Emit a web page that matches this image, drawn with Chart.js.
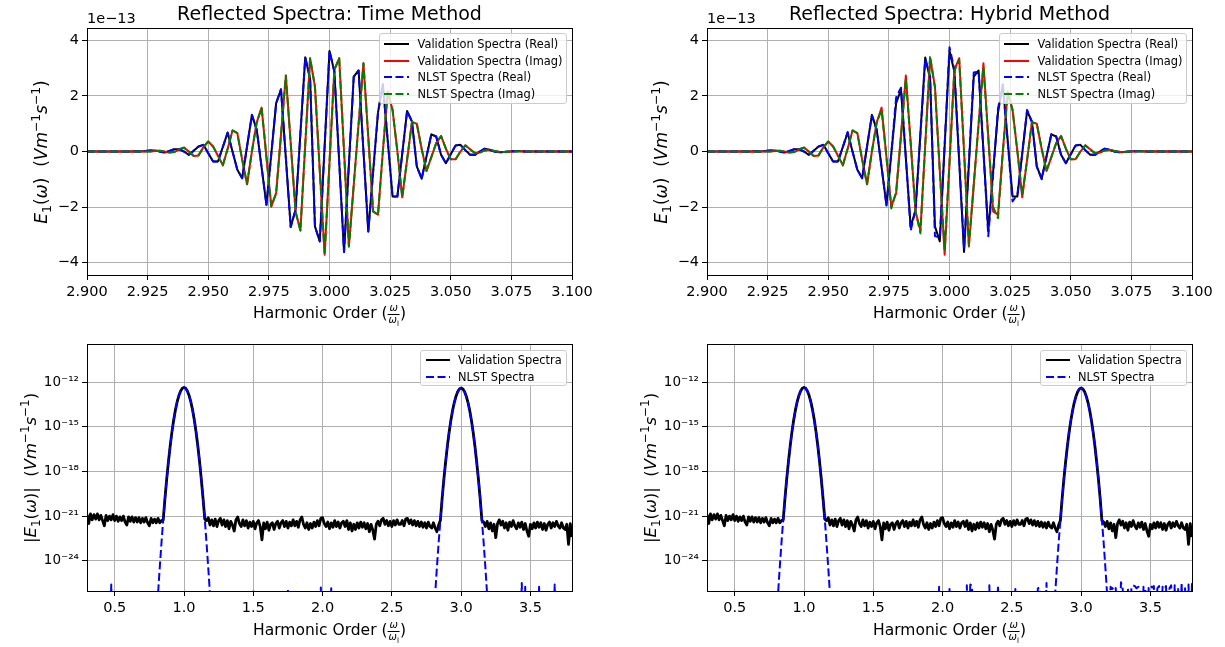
<!DOCTYPE html>
<html><head><meta charset="utf-8">
<script src="https://cdn.jsdelivr.net/npm/chart.js@4.4.1/dist/chart.umd.min.js"></script>
<style>
html,body{margin:0;padding:0;background:#fff;}
#wrap{position:relative;width:1225px;height:647px;overflow:hidden;font-family:"DejaVu Sans",sans-serif;color:#000;}
canvas{position:absolute;}
.t{position:absolute;white-space:nowrap;transform:translate(-50%,-50%);line-height:1;}
.rot{transform:translate(-50%,-50%) rotate(-90deg);}
.off{position:absolute;white-space:nowrap;transform:translate(0,-50%);line-height:1;font-size:14.5px;}
sub,sup{font-size:72%;line-height:0;}
.frac{display:inline-block;vertical-align:-0.45em;text-align:center;font-size:10px;line-height:1.05;}
.frac>span{display:block;padding:0 1px;}
.frac>span:first-child{border-bottom:1px solid #000;}
.leg{position:absolute;box-sizing:border-box;background:rgba(255,255,255,0.8);border:1px solid #cccccc;border-radius:3px;font-size:11.4px;}
.leg .row{position:absolute;display:flex;align-items:center;height:14px;white-space:nowrap;}
.leg svg{display:block;}
</style></head>
<body><div id="wrap">
<canvas id="c1" width="612" height="330" style="left:0;top:0"></canvas>
<canvas id="c2" width="612" height="330" style="left:620px;top:0"></canvas>
<canvas id="c3" width="612" height="317" style="left:0;top:330px"></canvas>
<canvas id="c4" width="612" height="317" style="left:620px;top:330px"></canvas>
</div>
<script>
// ---------- top panels: harmonic order grid and spectra (units of 1e-13) ----------
const harmonicTop = [
2.900,2.902,2.904,2.906,2.908,2.910,2.912,2.914,2.916,2.918,
2.920,2.922,2.924,2.926,2.928,2.930,2.932,2.934,2.936,2.938,
2.940,2.942,2.944,2.946,2.948,2.950,2.952,2.954,2.956,2.958,
2.960,2.962,2.964,2.966,2.968,2.970,2.972,2.974,2.976,2.978,
2.980,2.982,2.984,2.986,2.988,2.990,2.992,2.994,2.996,2.998,
3.000,3.002,3.004,3.006,3.008,3.010,3.012,3.014,3.016,3.018,
3.020,3.022,3.024,3.026,3.028,3.030,3.032,3.034,3.036,3.038,
3.040,3.042,3.044,3.046,3.048,3.050,3.052,3.054,3.056,3.058,
3.060,3.062,3.064,3.066,3.068,3.070,3.072,3.074,3.076,3.078,
3.080,3.082,3.084,3.086,3.088,3.090,3.092,3.094,3.096,3.098,
3.100];
const validationReal = [
0,0,0,0,0,0,0,0,0,0,
0.01,0.00,0.02,0.04,0.04,0.00,-0.04,0.02,0.08,0.08,
0.00,-0.12,0.03,0.18,0.24,-0.06,-0.36,-0.36,0.16,0.68,
0.00,-0.66,-0.96,0.18,1.32,0.78,-0.57,-1.92,-0.09,1.74,
2.24,-0.23,-2.72,-2.10,0.65,3.39,2.62,-2.70,-3.24,0.20,
3.62,2.88,-0.37,-3.62,-0.46,2.70,2.92,0.02,-2.88,-0.72,
1.40,2.42,0.40,-1.62,-1.62,-0.08,1.46,1.08,-0.54,-0.98,
-0.18,0.62,0.54,-0.12,-0.42,-0.10,0.22,0.24,0.05,-0.12,
-0.12,0.00,0.10,0.06,0.00,-0.03,-0.02,0.00,0.01,0.02,
0,0,0,0,0,0,0,0,0,0,
0];
const validationImag = [
0,0,0,0,0,0,0,0,0,0,
0,0,0,0,0.02,0.03,0.00,-0.04,-0.02,0.08,
0.14,0.00,-0.16,-0.14,0.15,0.36,0.18,-0.15,-0.50,0.10,
0.76,0.66,-0.30,-1.18,0.00,1.05,1.58,-0.20,-1.98,-1.50,
0.60,2.74,0.30,-2.16,-2.85,0.25,3.36,2.34,-0.70,-3.72,
-0.40,2.94,3.36,0.00,-3.42,-1.20,1.00,3.18,0.50,-2.16,
-2.28,0.00,2.16,1.50,0.00,-1.65,-0.30,1.06,1.00,0.10,
-0.70,-0.20,0.30,0.56,0.10,-0.28,-0.28,0.00,0.22,0.08,
-0.06,-0.04,0.04,0.06,0.02,-0.01,-0.02,-0.01,0.00,0.01,
0.01,0,0,0,0,0,0,0,0,0,
0];
// time method NLST reads identical to validation at this resolution
const nlstTimeReal = [
0,0,0,0,0,0,0,0,0,0,
0.01,0.00,0.02,0.04,0.04,0.00,-0.04,0.02,0.08,0.08,
0.00,-0.12,0.03,0.18,0.24,-0.06,-0.36,-0.36,0.16,0.68,
0.00,-0.66,-0.96,0.18,1.32,0.78,-0.57,-1.92,-0.09,1.74,
2.24,-0.23,-2.72,-2.10,0.65,3.39,2.62,-2.70,-3.24,0.20,
3.62,2.88,-0.37,-3.62,-0.46,2.70,2.92,0.02,-2.88,-0.72,
1.40,2.42,0.40,-1.62,-1.62,-0.08,1.46,1.08,-0.54,-0.98,
-0.18,0.62,0.54,-0.12,-0.42,-0.10,0.22,0.24,0.05,-0.12,
-0.12,0.00,0.10,0.06,0.00,-0.03,-0.02,0.00,0.01,0.02,
0,0,0,0,0,0,0,0,0,0,
0];
const nlstTimeImag = [
0,0,0,0,0,0,0,0,0,0,
0,0,0,0,0.02,0.03,0.00,-0.04,-0.02,0.08,
0.14,0.00,-0.16,-0.14,0.15,0.36,0.18,-0.15,-0.50,0.10,
0.76,0.66,-0.30,-1.18,0.00,1.05,1.58,-0.20,-1.98,-1.50,
0.60,2.74,0.30,-2.16,-2.85,0.25,3.36,2.34,-0.70,-3.72,
-0.40,2.94,3.36,0.00,-3.42,-1.20,1.00,3.18,0.50,-2.16,
-2.28,0.00,2.16,1.50,0.00,-1.65,-0.30,1.06,1.00,0.10,
-0.70,-0.20,0.30,0.56,0.10,-0.28,-0.28,0.00,0.22,0.08,
-0.06,-0.04,0.04,0.06,0.02,-0.01,-0.02,-0.01,0.00,0.01,
0.01,0,0,0,0,0,0,0,0,0,
0];
const nlstHybridReal = [
0,0,0,0,0,0,0,0,0,0,
0.01,0.00,0.02,0.04,0.04,0.00,-0.04,0.02,0.08,0.08,
0.00,-0.12,0.03,0.18,0.24,-0.06,-0.36,-0.36,0.16,0.70,
0.00,-0.66,-0.96,0.18,1.30,0.78,-0.57,-1.95,-0.05,1.95,
2.30,-0.23,-2.85,-2.10,0.60,3.32,2.70,-3.05,-3.10,0.25,
3.76,2.95,-0.30,-3.50,-0.40,2.85,2.88,0.00,-3.05,-0.80,
1.55,2.35,0.35,-1.80,-1.55,-0.05,1.50,1.05,-0.55,-1.00,
-0.18,0.62,0.54,-0.12,-0.42,-0.10,0.22,0.24,0.05,-0.12,
-0.12,0.00,0.10,0.06,0.00,-0.03,-0.02,0.00,0.01,0.02,
0,0,0,0,0,0,0,0,0,0,
0];
const nlstHybridImag = [
0,0,0,0,0,0,0,0,0,0,
0,0,0,0,0.02,0.03,0.00,-0.04,-0.02,0.08,
0.14,0.00,-0.16,-0.14,0.15,0.36,0.18,-0.15,-0.50,0.10,
0.76,0.66,-0.30,-1.18,0.00,1.05,1.50,-0.20,-2.05,-1.45,
0.55,2.62,0.30,-2.16,-2.95,0.25,3.45,2.30,-0.70,-3.55,
-0.40,2.90,3.30,0.00,-3.35,-1.20,1.00,3.05,0.50,-2.00,
-2.40,0.00,2.10,1.50,0.00,-1.55,-0.30,1.06,1.00,0.10,
-0.70,-0.20,0.30,0.56,0.10,-0.28,-0.28,0.00,0.22,0.08,
-0.06,-0.04,0.04,0.06,0.02,-0.01,-0.02,-0.01,0.00,0.01,
0.01,0,0,0,0,0,0,0,0,0,
0];

// ---------- bottom panels: harmonic order grid, log10 of |E1| ----------
const harmonicBottom = [
0.3,0.3125,0.325,0.3375,0.35,0.3625,0.375,0.3875,0.4,0.4125,
0.425,0.4375,0.45,0.4625,0.475,0.4875,0.5,0.5125,0.525,0.5375,
0.55,0.5625,0.575,0.5875,0.6,0.6125,0.625,0.6375,0.65,0.6625,
0.675,0.6875,0.7,0.7125,0.725,0.7375,0.75,0.7625,0.775,0.7875,
0.8,0.8125,0.825,0.8375,0.85,0.8625,0.875,0.8875,0.9,0.9125,
0.925,0.9375,0.95,0.9625,0.975,0.9875,1,1.0125,1.025,1.0375,
1.05,1.0625,1.075,1.0875,1.1,1.1125,1.125,1.1375,1.15,1.1625,
1.175,1.1875,1.2,1.2125,1.225,1.2375,1.25,1.2625,1.275,1.2875,
1.3,1.3125,1.325,1.3375,1.35,1.3625,1.375,1.3875,1.4,1.4125,
1.425,1.4375,1.45,1.4625,1.475,1.4875,1.5,1.5125,1.525,1.5375,
1.55,1.5625,1.575,1.5875,1.6,1.6125,1.625,1.6375,1.65,1.6625,
1.675,1.6875,1.7,1.7125,1.725,1.7375,1.75,1.7625,1.775,1.7875,
1.8,1.8125,1.825,1.8375,1.85,1.8625,1.875,1.8875,1.9,1.9125,
1.925,1.9375,1.95,1.9625,1.975,1.9875,2,2.0125,2.025,2.0375,
2.05,2.0625,2.075,2.0875,2.1,2.1125,2.125,2.1375,2.15,2.1625,
2.175,2.1875,2.2,2.2125,2.225,2.2375,2.25,2.2625,2.275,2.2875,
2.3,2.3125,2.325,2.3375,2.35,2.3625,2.375,2.3875,2.4,2.4125,
2.425,2.4375,2.45,2.4625,2.475,2.4875,2.5,2.5125,2.525,2.5375,
2.55,2.5625,2.575,2.5875,2.6,2.6125,2.625,2.6375,2.65,2.6625,
2.675,2.6875,2.7,2.7125,2.725,2.7375,2.75,2.7625,2.775,2.7875,
2.8,2.8125,2.825,2.8375,2.85,2.8625,2.875,2.8875,2.9,2.9125,
2.925,2.9375,2.95,2.9625,2.975,2.9875,3,3.0125,3.025,3.0375,
3.05,3.0625,3.075,3.0875,3.1,3.1125,3.125,3.1375,3.15,3.1625,
3.175,3.1875,3.2,3.2125,3.225,3.2375,3.25,3.2625,3.275,3.2875,
3.3,3.3125,3.325,3.3375,3.35,3.3625,3.375,3.3875,3.4,3.4125,
3.425,3.4375,3.45,3.4625,3.475,3.4875,3.5,3.5125,3.525,3.5375,
3.55,3.5625,3.575,3.5875,3.6,3.6125,3.625,3.6375,3.65,3.6625,
3.675,3.6875,3.7,3.7125,3.725,3.7375,3.75,3.7625,3.775,3.7875,
3.8];
const validationLog10 = [
-20.9,-21.5,-20.85,-21.25,-20.9,-21.2,-20.85,-21.25,-20.95,-21.3,
-21.65,-20.95,-21.3,-21.0,-21.25,-20.9,-21.3,-21.0,-21.35,-21.05,
-21.3,-21.0,-21.4,-21.6,-21.05,-21.35,-21.05,-21.4,-21.1,-21.4,
-21.1,-21.45,-21.15,-21.4,-21.1,-21.45,-21.65,-21.15,-21.45,-21.2,
-21.45,-21.15,-21.45,-21.3,-21.25,-19.83,-18.53,-17.36,-16.31,-15.38,
-14.58,-13.90,-13.35,-12.92,-12.61,-12.42,-12.36,-12.42,-12.61,-12.92,
-13.35,-13.90,-14.58,-15.38,-16.31,-17.36,-18.53,-19.83,-21.2,-21.3,
-21.1,-21.6,-21.25,-21.65,-21.2,-21.7,-21.3,-21.15,-21.6,-21.25,
-21.7,-21.3,-21.85,-21.35,-21.6,-22.0,-21.25,-21.05,-21.5,-21.7,
-21.25,-21.65,-21.3,-21.8,-21.4,-21.7,-21.35,-21.85,-21.45,-21.3,
-21.7,-22.6,-21.45,-21.85,-21.4,-21.95,-21.55,-21.45,-21.9,-21.5,
-21.35,-21.8,-21.45,-21.3,-21.7,-21.35,-21.8,-21.4,-21.65,-21.25,
-21.65,-21.35,-21.75,-21.25,-21.05,-21.55,-21.8,-21.45,-21.9,-21.5,
-21.8,-21.4,-21.7,-21.3,-21.65,-21.15,-21.1,-21.5,-21.7,-21.4,
-21.85,-21.45,-21.75,-21.3,-21.7,-21.4,-21.8,-21.45,-21.35,-21.7,
-21.3,-21.9,-21.45,-22.0,-21.55,-21.9,-21.45,-21.8,-21.4,-21.75,
-21.45,-21.85,-21.5,-22.05,-21.55,-21.95,-22.55,-21.55,-21.35,-21.65,
-21.25,-21.15,-21.55,-21.3,-21.65,-21.35,-21.7,-21.3,-21.6,-21.25,
-21.55,-21.55,-21.3,-21.65,-21.2,-21.15,-21.5,-21.25,-21.6,-21.3,
-21.65,-21.35,-21.7,-21.4,-21.75,-21.45,-21.8,-21.4,-21.7,-21.8,
-21.45,-21.8,-22.05,-21.6,-21.3,-19.85,-18.55,-17.4,-16.35,-15.42,
-14.62,-13.94,-13.39,-12.96,-12.65,-12.46,-12.40,-12.46,-12.65,-12.96,
-13.39,-13.94,-14.62,-15.42,-16.35,-17.4,-18.55,-19.85,-21.3,-21.4,
-21.7,-21.35,-21.85,-21.45,-22.0,-21.55,-22.45,-21.5,-21.25,-21.6,
-21.35,-21.8,-21.45,-21.95,-21.4,-21.7,-21.3,-21.65,-21.85,-21.45,
-21.75,-21.4,-21.9,-21.5,-22.0,-22.35,-21.55,-21.85,-21.45,-21.8,
-21.4,-21.75,-21.45,-21.9,-21.5,-21.95,-21.55,-21.4,-21.8,-21.45,
-21.7,-21.35,-21.65,-21.8,-21.45,-21.8,-21.9,-21.55,-22.9,-21.5,
-22.4];
// -30 = below the visible axis range
const nlstTimeLog10 = [
-30,-30,-30,-30,-30,-30,-30,-30,-30,-30,
-30,-30,-30,-30,-25.6,-30,-30,-30,-30,-30,
-30,-30,-30,-30,-30,-30,-30,-30,-30,-30,
-30,-30,-30,-30,-30,-30,-30,-30,-30,-30,
-28.16,-26.25,-24.46,-22.79,-21.25,-19.83,-18.53,-17.36,-16.31,-15.38,
-14.58,-13.90,-13.35,-12.92,-12.61,-12.42,-12.36,-12.42,-12.61,-12.92,
-13.35,-13.90,-14.58,-15.38,-16.31,-17.36,-18.53,-19.83,-21.2,-22.79,
-24.46,-26.25,-28.16,-30,-30,-30,-30,-30,-30,-30,
-30,-30,-30,-30,-30,-30,-30,-30,-30,-30,
-30,-30,-30,-30,-30,-30,-25.95,-30,-30,-30,
-30,-30,-30,-30,-30,-30,-30,-30,-30,-30,
-30,-30,-30,-30,-30,-30,-25.95,-30,-30,-30,
-30,-30,-30,-30,-30,-30,-30,-30,-30,-30,
-30,-30,-30,-30,-30,-25.8,-30,-30,-30,-30,
-30,-25.85,-30,-30,-30,-30,-30,-30,-30,-30,
-30,-30,-30,-30,-30,-30,-30,-30,-30,-30,
-30,-30,-30,-30,-30,-30,-30,-30,-30,-30,
-30,-30,-30,-30,-30,-30,-30,-30,-30,-30,
-30,-30,-30,-30,-30,-30,-30,-30,-30,-30,
-30,-30,-30,-30,-30,-30,-30,-30,-30,-30,
-28.16,-26.25,-24.46,-22.79,-21.3,-19.85,-18.55,-17.4,-16.35,-15.42,
-14.62,-13.94,-13.39,-12.96,-12.65,-12.46,-12.40,-12.46,-12.65,-12.96,
-13.39,-13.94,-14.62,-15.42,-16.35,-17.4,-18.55,-19.85,-21.3,-22.79,
-24.46,-26.25,-28.16,-30,-30,-30,-30,-30,-30,-30,
-30,-30,-30,-30,-30,-30,-30,-30,-30,-30,
-30,-25.5,-30,-25.75,-30,-30,-30,-30,-30,-30,
-30,-25.75,-30,-30,-30,-30,-30,-30,-30,-30,
-25.6,-30,-30,-30,-30,-30,-30,-30,-30,-30,
-30];
const nlstHybridLog10 = [
-30,-30,-30,-30,-30,-30,-30,-30,-30,-30,
-30,-30,-30,-30,-30,-30,-30,-30,-30,-30,
-30,-30,-30,-30,-30,-30,-30,-30,-30,-30,
-30,-30,-30,-30,-30,-30,-30,-30,-30,-30,
-28.16,-26.25,-24.46,-22.79,-21.25,-19.83,-18.53,-17.36,-16.31,-15.38,
-14.58,-13.90,-13.35,-12.92,-12.61,-12.42,-12.36,-12.42,-12.61,-12.92,
-13.35,-13.90,-14.58,-15.38,-16.31,-17.36,-18.53,-19.83,-21.2,-22.79,
-24.46,-26.25,-28.16,-30,-30,-30,-30,-30,-30,-30,
-30,-30,-30,-30,-30,-30,-30,-30,-30,-30,
-30,-30,-30,-30,-30,-30,-30,-30,-30,-30,
-30,-30,-30,-30,-30,-30,-30,-30,-30,-30,
-30,-30,-30,-30,-30,-30,-30,-30,-30,-30,
-30,-30,-30,-30,-30,-30,-30,-30,-30,-30,
-30,-30,-30,-30,-25.75,-30,-30,-30,-30,-30,
-25.9,-30,-30,-30,-30,-30,-30,-30,-30,-30,
-25.65,-30,-25.6,-25.7,-30,-30,-30,-30,-30,-30,
-30,-30,-30,-25.65,-30,-30,-30,-30,-25.65,-30,
-30,-30,-30,-30,-30,-30,-30,-30,-25.9,-30,
-30,-30,-30,-30,-30,-30,-30,-30,-25.95,-30,
-30,-25.85,-25.8,-30,-30,-30,-25.5,-30,-30,-30,
-28.16,-26.25,-24.46,-22.79,-21.3,-19.85,-18.55,-17.4,-16.35,-15.42,
-14.62,-13.94,-13.39,-12.96,-12.65,-12.46,-12.40,-12.46,-12.65,-12.96,
-13.39,-13.94,-14.62,-15.42,-16.35,-17.4,-18.55,-19.85,-21.3,-22.79,
-24.46,-26.25,-28.16,-25.75,-25.9,-25.7,-25.85,-30,-30,-25.45,
-25.9,-30,-30,-25.85,-30,-25.9,-25.65,-25.7,-25.85,-25.75,
-25.9,-30,-25.75,-25.85,-30,-25.8,-25.65,-25.8,-25.7,-30,
-25.85,-25.7,-30,-25.75,-25.9,-25.7,-30,-25.85,-25.65,-30,
-25.65,-30,-25.9,-30,-25.45,-30,-25.85,-30,-25.6,-30,
-25.5];

// ---------- ticks and texts ----------
const topXTicks = [2.900,2.925,2.950,2.975,3.000,3.025,3.050,3.075,3.100];
const topYTicks = [-4,-2,0,2,4];
const topYTickLabels = ['\u22124','\u22122','0','2','4'];
const bottomXTicks = [0.5,1.0,1.5,2.0,2.5,3.0,3.5];
const bottomYTicks = [1e-24,1e-21,1e-18,1e-15,1e-12];
const bottomYTickLabels = ['10\u207b\u00b2\u2074','10\u207b\u00b2\u00b9','10\u207b\u00b9\u2078','10\u207b\u00b9\u2075','10\u207b\u00b9\u00b2'];
const titles = ['Reflected Spectra: Time Method','Reflected Spectra: Hybrid Method'];
const topLegendLabels = ['Validation Spectra (Real)','Validation Spectra (Imag)','NLST Spectra (Real)','NLST Spectra (Imag)'];
const bottomLegendLabels = ['Validation Spectra','NLST Spectra'];

const FONT = 'DejaVu Sans';
const DASH = [8,3.5];

const framePlugin = {
  id:'frame',
  afterDatasetsDraw(chart){
    const a = chart.chartArea, ctx = chart.ctx;
    const L = Math.round(a.left)+0.5, T = Math.round(a.top)+0.5;
    const R = Math.round(a.right)+0.5, B = Math.round(a.bottom)+0.5;
    ctx.save(); ctx.strokeStyle='#000'; ctx.lineWidth=1;
    ctx.strokeRect(L, T, R-L, B-T); ctx.restore();
  }
};

function baseOptions(padTop){
  return {
    responsive:false, animation:false, events:[],
    layout:{padding:{top:padTop,right:40,left:0,bottom:0}},
    plugins:{legend:{display:false}, tooltip:{enabled:false}},
    elements:{point:{radius:0}, line:{tension:0, borderJoinStyle:'round', borderCapStyle:'butt'}},
  };
}
function gridOpts(){ return {color:'#b0b0b0', lineWidth:1, tickLength:5, tickColor:'#000', tickWidth:1, drawTicks:true}; }
function tickFont(){ return {family:FONT, size:14.5}; }

function topChart(id, vr, vi, nr, ni){
  const pts = a => harmonicTop.map((x,i)=>({x:x, y:a[i]}));
  const opt = baseOptions(28);
  opt.scales = {
    x:{type:'linear', min:2.9, max:3.1,
       afterBuildTicks:s=>{s.ticks = topXTicks.map(v=>({value:v}));},
       afterFit:s=>{s.height = 55;},
       ticks:{callback:v=>Number(v).toFixed(3), font:tickFont(), color:'#000', padding:4, maxRotation:0, autoSkip:false},
       grid:gridOpts(), border:{color:'#000', width:1}},
    y:{type:'linear', min:-4.45, max:4.45,
       afterBuildTicks:s=>{s.ticks = topYTicks.map(v=>({value:v}));},
       afterFit:s=>{s.width = 87;},
       ticks:{callback:(v)=>topYTickLabels[topYTicks.indexOf(v)], font:tickFont(), color:'#000', padding:3, autoSkip:false},
       grid:gridOpts(), border:{color:'#000', width:1}}
  };
  return new Chart(document.getElementById(id), {
    type:'line',
    data:{datasets:[
      {label:topLegendLabels[0], data:pts(vr), borderColor:'#000000', borderWidth:2, order:4},
      {label:topLegendLabels[1], data:pts(vi), borderColor:'#ff0000', borderWidth:2, order:3},
      {label:topLegendLabels[2], data:pts(nr), borderColor:'#0000ff', borderWidth:2, borderDash:DASH, order:2},
      {label:topLegendLabels[3], data:pts(ni), borderColor:'#008000', borderWidth:2, borderDash:DASH, order:1}
    ]},
    options:opt, plugins:[framePlugin]
  });
}

function bottomChart(id, vlog, nlog){
  const pts = a => harmonicBottom.map((x,i)=>({x:x, y:Math.pow(10, a[i])}));
  const opt = baseOptions(14);
  opt.scales = {
    x:{type:'linear', min:0.3, max:3.8,
       afterBuildTicks:s=>{s.ticks = bottomXTicks.map(v=>({value:v}));},
       afterFit:s=>{s.height = 56;},
       ticks:{callback:v=>Number(v).toFixed(1), font:tickFont(), color:'#000', padding:4, maxRotation:0, autoSkip:false},
       grid:gridOpts(), border:{color:'#000', width:1}},
    y:{type:'logarithmic', min:Math.pow(10,-26.03), max:Math.pow(10,-9.44),
       afterBuildTicks:s=>{s.ticks = bottomYTicks.map(v=>({value:v}));},
       afterFit:s=>{s.width = 87;},
       ticks:{callback:(v,i)=>bottomYTickLabels[i], font:{family:FONT, size:13.5}, color:'#000', padding:3, autoSkip:false},
       grid:gridOpts(), border:{color:'#000', width:1}}
  };
  return new Chart(document.getElementById(id), {
    type:'line',
    data:{datasets:[
      {label:bottomLegendLabels[0], data:pts(vlog), borderColor:'#000000', borderWidth:2.8, order:2},
      {label:bottomLegendLabels[1], data:pts(nlog), borderColor:'#0000ff', borderWidth:2, borderDash:DASH, order:1}
    ]},
    options:opt, plugins:[framePlugin]
  });
}

topChart('c1', validationReal, validationImag, nlstTimeReal, nlstTimeImag);
topChart('c2', validationReal, validationImag, nlstHybridReal, nlstHybridImag);
bottomChart('c3', validationLog10, nlstTimeLog10);
bottomChart('c4', validationLog10, nlstHybridLog10);

// ---------- HTML texts ----------
const wrap = document.getElementById('wrap');
function addText(html, cls, x, y, size){
  const d = document.createElement('div');
  d.className = cls; d.innerHTML = html;
  d.style.left = x+'px'; d.style.top = y+'px'; d.style.fontSize = size+'px';
  wrap.appendChild(d); return d;
}
const xLabelHtml = 'Harmonic Order (<span class="frac"><span><i>ω</i></span><span><i>ω</i><sub>l</sub></span></span>)';
const yTopHtml = '<i>E</i><sub>1</sub>(<i>ω</i>)&nbsp;&nbsp;(<i>Vm</i><sup>\u22121</sup><i>s</i><sup>\u22121</sup>)';
const yBotHtml = '|<i>E</i><sub>1</sub>(<i>ω</i>)|&nbsp;&nbsp;(<i>Vm</i><sup>\u22121</sup><i>s</i><sup>\u22121</sup>)';

function legend(left, top, w, h, labels, styles, rowCenters, lineX, lineLen, textX){
  const box = document.createElement('div');
  box.className = 'leg';
  box.style.left = left+'px'; box.style.top = top+'px'; box.style.width = w+'px'; box.style.height = h+'px';
  labels.forEach((lab, i)=>{
    const st = styles[i];
    const row = document.createElement('div');
    row.className = 'row';
    row.style.left = lineX+'px'; row.style.top = (rowCenters[i]-7)+'px';
    const dash = st.dash ? ' stroke-dasharray="'+DASH.join(' ')+'"' : '';
    row.innerHTML = '<svg width="'+lineLen+'" height="4"><line x1="0" y1="2" x2="'+lineLen+'" y2="2" stroke="'+st.color+'" stroke-width="2"'+dash+'/></svg>'+
      '<span style="margin-left:'+(textX-lineX-lineLen)+'px">'+lab+'</span>';
    box.appendChild(row);
  });
  wrap.appendChild(box);
}
const topStyles = [{color:'#000000'},{color:'#ff0000'},{color:'#0000ff',dash:true},{color:'#008000',dash:true}];
const botStyles = [{color:'#000000'},{color:'#0000ff',dash:true}];

[0, 620].forEach((dx, p)=>{
  addText(titles[p], 't', 329.5+dx, 13, 19);
  addText('1e\u221213', 'off', 87+dx, 18, 14.5);
  addText(xLabelHtml, 't', 329.5+dx, 314, 15.5);
  addText(xLabelHtml, 't', 329.5+dx, 631, 15.5);
  addText(yTopHtml, 't rot', 41+dx, 151.5, 17);
  addText(yBotHtml, 't rot', 31+dx, 467.5, 16.5);
  legend(379+dx, 33, 188, 71, topLegendLabels, topStyles, [9.5,26.5,43.3,60], 4, 25, 37.5);
  legend(420+dx, 350, 147, 36, bottomLegendLabels, botStyles, [9,25.7], 5, 24, 37);
});
</script>
</body></html>
